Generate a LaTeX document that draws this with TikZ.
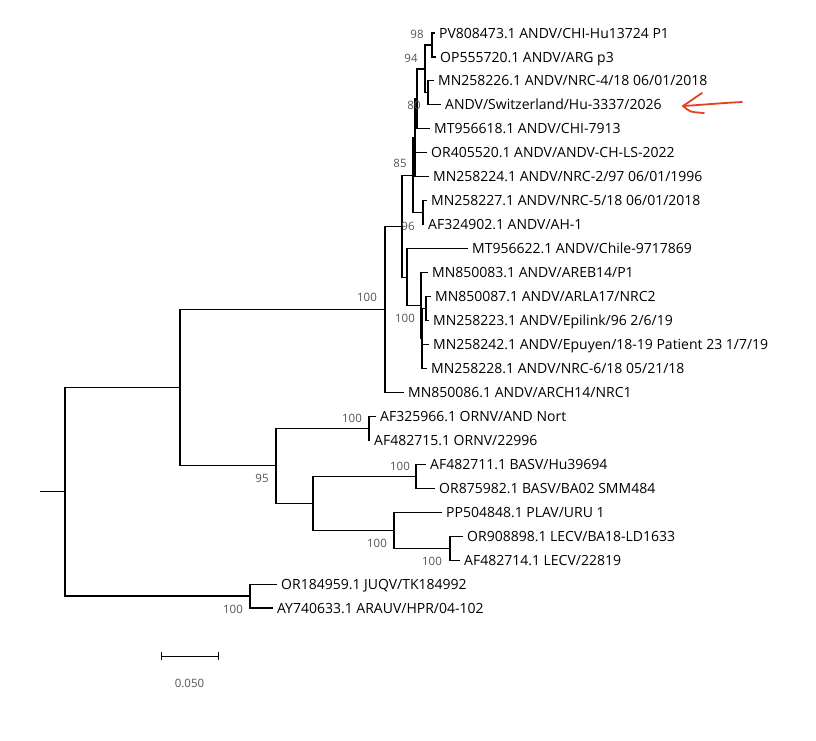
\documentclass[tikz,border=0pt]{standalone}
\usepackage{fontspec}
\setmainfont{Open Sans}
\usetikzlibrary{calc}

\definecolor{bootgray}{RGB}{85,85,85}
\definecolor{markred}{RGB}{226,66,36}

\begin{document}
\begin{tikzpicture}[x=1pt, y=-1pt,
  branch/.style={line width=1.1pt},
  leaf/.style={anchor=west, inner xsep=4pt, inner ysep=0pt, text height=10pt, text depth=0pt, font=\fontsize{14}{16}\selectfont},
  boot/.style={text=bootgray, inner sep=0pt, font=\fontsize{11.5}{13}\selectfont}]

  \useasboundingbox (0,0) rectangle (816,740);

  % leaves, top to bottom
  \node[leaf] (pv808) at (435,33)    {PV808473.1 ANDV/CHI-Hu13724 P1};
  \node[leaf] (op555) at (436,57)    {OP555720.1 ANDV/ARG p3};
  \node[leaf] (mn226) at (434,80.9)  {MN258226.1 ANDV/NRC-4/18 06/01/2018};
  \node[leaf] (swiss) at (441,104.9) {ANDV/Switzerland/Hu-3337/2026};
  \node[leaf] (mt618) at (430,128.8) {MT956618.1 ANDV/CHI-7913};
  \node[leaf] (or520) at (427,152.8) {OR405520.1 ANDV/ANDV-CH-LS-2022};
  \node[leaf] (mn224) at (429,176.8) {MN258224.1 ANDV/NRC-2/97 06/01/1996};
  \node[leaf] (mn227) at (427,200.7) {MN258227.1 ANDV/NRC-5/18 06/01/2018};
  \node[leaf] (af902) at (424,224.7) {AF324902.1 ANDV/AH-1};
  \node[leaf] (mt622) at (468,248.6) {MT956622.1 ANDV/Chile-9717869};
  \node[leaf] (mn083) at (428,272.6) {MN850083.1 ANDV/AREB14/P1};
  \node[leaf] (mn087) at (431,296.6) {MN850087.1 ANDV/ARLA17/NRC2};
  \node[leaf] (mn223) at (429,320.5) {MN258223.1 ANDV/Epilink/96 2/6/19};
  \node[leaf] (mn242) at (429,344.5) {MN258242.1 ANDV/Epuyen/18-19 Patient 23 1/7/19};
  \node[leaf] (mn228) at (427,368.4) {MN258228.1 ANDV/NRC-6/18 05/21/18};
  \node[leaf] (mn086) at (404,392.4) {MN850086.1 ANDV/ARCH14/NRC1};
  \node[leaf] (af966) at (376,416.4) {AF325966.1 ORNV/AND Nort};
  \node[leaf] (af715) at (370,440.3) {AF482715.1 ORNV/22996};
  \node[leaf] (af711) at (426,464.3) {AF482711.1 BASV/Hu39694};
  \node[leaf] (or982) at (435,488.2) {OR875982.1 BASV/BA02 SMM484};
  \node[leaf] (pp848) at (442,512.2) {PP504848.1 PLAV/URU 1};
  \node[leaf] (or898) at (463,536.2) {OR908898.1 LECV/BA18-LD1633};
  \node[leaf] (af714) at (460,560.1) {AF482714.1 LECV/22819};
  \node[leaf] (or959) at (277,584.1) {OR184959.1 JUQV/TK184992};
  \node[leaf] (ay633) at (273,608)   {AY740633.1 ARAUV/HPR/04-102};

  % internal nodes
  \coordinate (n98)    at (432,45);
  \coordinate (nsw)    at (428,92.9);
  \coordinate (n94)    at (425,69);
  \coordinate (n80)    at (417,98.9);
  \coordinate (nchi)   at (415,137.9);
  \coordinate (nnrc)   at (423,212.7);
  \coordinate (n85)    at (413,175.3);
  \coordinate (narla)  at (426,308.6);
  \coordinate (nepu)   at (422,338.5);
  \coordinate (nareb)  at (421,305.6);
  \coordinate (nchile) at (407,277.1);
  \coordinate (n96)    at (402,226.2);
  \coordinate (nandv)  at (385,309.3);
  \coordinate (nornv)  at (369,428.4);
  \coordinate (nbasv)  at (416,476.3);
  \coordinate (nlecv)  at (450,548.2);
  \coordinate (nplav)  at (394,530.2);
  \coordinate (nsouth) at (313,503.3);
  \coordinate (nout)   at (276,465.9);
  \coordinate (nmain)  at (180,387.6);
  \coordinate (njuq)   at (250,596);
  \coordinate (root)   at (65,491.8);
  \coordinate (stub)   at (40,491.8);

  % branches
  \draw[branch] (n98) |- (pv808.west) (n98) |- (op555.west);
  \draw[branch] (nsw) |- (mn226.west) (nsw) |- (swiss.west);
  \draw[branch] (n94) |- (n98) (n94) |- (nsw);
  \draw[branch] (n80) |- (n94) (n80) |- (mt618.west);
  \draw[branch] (nchi) |- (n80) (nchi) |- (or520.west) (nchi) |- (mn224.west);
  \draw[branch] (nnrc) |- (mn227.west) (nnrc) |- (af902.west);
  \draw[branch] (n85) |- (nchi) (n85) |- (nnrc);
  \draw[branch] (narla) |- (mn087.west) (narla) |- (mn223.west);
  \draw[branch] (nepu) |- (narla) (nepu) |- (mn242.west) (nepu) |- (mn228.west);
  \draw[branch] (nareb) |- (mn083.west) (nareb) |- (nepu);
  \draw[branch] (nchile) |- (mt622.west) (nchile) |- (nareb);
  \draw[branch] (n96) |- (n85) (n96) |- (nchile);
  \draw[branch] (nandv) |- (n96) (nandv) |- (mn086.west);
  \draw[branch] (nornv) |- (af966.west) (nornv) |- (af715.west);
  \draw[branch] (nbasv) |- (af711.west) (nbasv) |- (or982.west);
  \draw[branch] (nlecv) |- (or898.west) (nlecv) |- (af714.west);
  \draw[branch] (nplav) |- (pp848.west) (nplav) |- (nlecv);
  \draw[branch] (nsouth) |- (nbasv) (nsouth) |- (nplav);
  \draw[branch] (nout) |- (nornv) (nout) |- (nsouth);
  \draw[branch] (nmain) |- (nandv) (nmain) |- (nout);
  \draw[branch] (njuq) |- (or959.west) (njuq) |- (ay633.west);
  \draw[branch] (root) |- (nmain) (root) |- (njuq);
  \draw[branch] (stub) -- (root);

  % bootstrap values
  \node[boot] (b98)    at (417,34)  {98};
  \node[boot] (b94)    at (411,58)  {94};
  \node[boot] (b80)    at (414,105) {80};
  \node[boot] (b85)    at (400,163) {85};
  \node[boot] (b96)    at (408,226) {96};
  \node[boot] (bandv)  at (367,297) {100};
  \node[boot] (bareb)  at (405,318) {100};
  \node[boot] (bornv)  at (352,418) {100};
  \node[boot] (bout)   at (262,478) {95};
  \node[boot] (bbasv)  at (400,466) {100};
  \node[boot] (bplav)  at (377,543) {100};
  \node[boot] (blecv)  at (432,561) {100};
  \node[boot] (bjuq)   at (233,609) {100};

  % scale bar
  \coordinate (sb-l) at (161,656);
  \coordinate (sb-r) at (218,656);
  \draw[line width=1pt] (sb-l) -- (sb-r);
  \draw[line width=1pt] ($(sb-l)+(0,-4)$) -- ($(sb-l)+(0,4)$);
  \draw[line width=1pt] ($(sb-r)+(0,-4)$) -- ($(sb-r)+(0,4)$);
  \node[boot] (sb-text) at ($(sb-l)!0.5!(sb-r)+(0,27)$) {0.050};

  % hand drawn pointer
  \coordinate (tip) at (683,106);
  \draw[markred, line width=1.8pt, line cap=round, line join=round]
  (742,102) .. controls (722,103) and (700,105) .. (tip);
  \draw[markred, line width=1.8pt, line cap=round, line join=round]
  (702,93) .. controls (693,99) .. (tip)
  .. controls (690,112) .. (704,113);

\end{tikzpicture}
\end{document}
